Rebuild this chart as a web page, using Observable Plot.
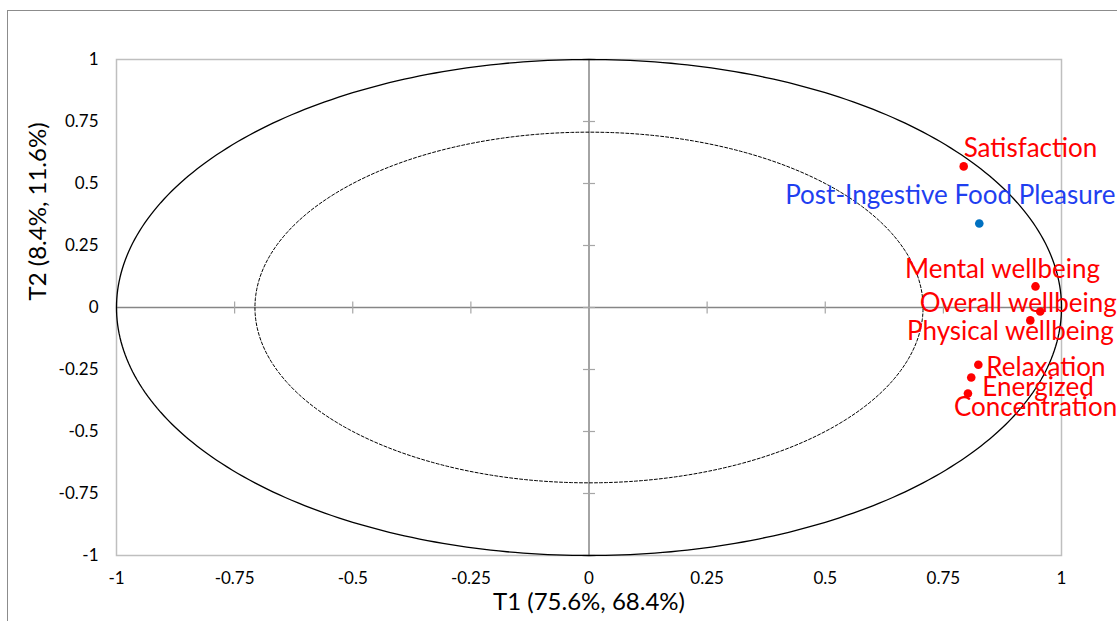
<!DOCTYPE html>
<html><head><meta charset="utf-8">
<script src="https://cdn.jsdelivr.net/npm/d3@7"></script>
<script src="https://cdn.jsdelivr.net/npm/@observablehq/plot@0.6"></script>
<style>
body{margin:0;background:#fff;overflow:hidden;}
#wrap{position:relative;width:1117px;height:621px;overflow:hidden;}
#border{position:absolute;left:7px;top:10px;width:1300px;height:800px;border:1px solid #8c8c8c;pointer-events:none;}
#chart{position:absolute;left:0;top:0;}
</style></head><body>
<div id="wrap"><div id="chart"></div><div id="border"></div></div>
<script>
// ---- data ----
const names = ["Satisfaction", "Post-Ingestive Food Pleasure", "Mental wellbeing", "Overall wellbeing", "Physical wellbeing", "Relaxation", "Energized", "Concentration"];
const t1 = [0.793, 0.826, 0.945, 0.955, 0.934, 0.824, 0.809, 0.802];
const t2 = [0.569, 0.339, 0.085, -0.016, -0.052, -0.231, -0.282, -0.347];
const roles = ["descriptor", "target", "descriptor", "descriptor", "descriptor", "descriptor", "descriptor", "descriptor"];
const xTicks = [-1, -0.75, -0.5, -0.25, 0, 0.25, 0.5, 0.75, 1];
const yTicks = [-1, -0.75, -0.5, -0.25, 0, 0.25, 0.5, 0.75, 1];
const xTitle = "T1 (75.6%, 68.4%)";
const yTitle = "T2 (8.4%, 11.6%)";
const circleRadii = [1, 0.707];

// ---- build ----
const points = names.map((n, i) => ({name: n, x: t1[i], y: t2[i], role: roles[i]}));
const roleColor = {descriptor: "#ff0000", target: "#0070c0"};
const labelColor = {descriptor: "#ff0000", target: "#1f3ff0"};
const circle = r => d3.range(0, 361, 1).map(a => ({x: r * Math.cos(a * Math.PI / 180), y: r * Math.sin(a * Math.PI / 180)}));
const vbar = {draw(ctx, size) {const h = Math.sqrt(size / Math.PI); ctx.moveTo(0, -h); ctx.lineTo(0, h);}};
const hbar = {draw(ctx, size) {const h = Math.sqrt(size / Math.PI); ctx.moveTo(-h, 0); ctx.lineTo(h, 0);}};
const fmt = d => String(d);
const FONT = "Lato, 'Liberation Sans', sans-serif";

const labelPlacement = {
  "Satisfaction": {textAnchor: "start", dx: 0, dy: -18},
  "Post-Ingestive Food Pleasure": {textAnchor: "middle", dx: -29, dy: -28},
  "Mental wellbeing": {textAnchor: "middle", dx: -33, dy: -17},
  "Overall wellbeing": {textAnchor: "middle", dx: -22, dy: -8},
  "Physical wellbeing": {textAnchor: "middle", dx: -20, dy: 11},
  "Relaxation": {textAnchor: "start", dx: 8, dy: 3},
  "Energized": {textAnchor: "start", dx: 11, dy: 10},
  "Concentration": {textAnchor: "start", dx: -14, dy: 14}
};
const labelMarks = points.map(p => Plot.text([p], {
  x: "x", y: "y", text: "name", fill: labelColor[p.role], fontSize: 26,
  ...labelPlacement[p.name]
}));

const chart = Plot.plot({
  width: 1117, height: 621,
  marginLeft: 116, marginRight: 56, marginTop: 59, marginBottom: 66,
  x: {domain: [-1, 1]},
  y: {domain: [-1, 1]},
  style: {fontFamily: FONT, background: "transparent", color: "#000"},
  marks: [
    Plot.frame({stroke: "#bfbfbf", strokeWidth: 1.5}),
    Plot.ruleX([0], {stroke: "#868686", strokeWidth: 1.5}),
    Plot.ruleY([0], {stroke: "#868686", strokeWidth: 1.5}),
    Plot.dot(xTicks, {x: d => d, y: 0, symbol: vbar, r: 6, stroke: "#a6a6a6", strokeWidth: 1.2}),
    Plot.dot(yTicks, {x: 0, y: d => d, symbol: hbar, r: 6, stroke: "#a6a6a6", strokeWidth: 1.2}),
    Plot.line(circle(circleRadii[0]), {x: "x", y: "y", stroke: "#000", strokeWidth: 1.3, curve: "linear"}),
    Plot.line(circle(circleRadii[1]), {x: "x", y: "y", stroke: "#000", strokeWidth: 1, strokeDasharray: "3,2"}),
    Plot.axisX({ticks: xTicks, tickSize: 0, tickPadding: 16, tickFormat: fmt, fontSize: 17, label: null}),
    Plot.axisY({ticks: yTicks, tickSize: 0, tickPadding: 18, tickFormat: fmt, fontSize: 17, label: null}),
    Plot.text([xTitle], {frameAnchor: "bottom", dy: 54, fontSize: 24, text: d => d}),
    Plot.text([yTitle], {frameAnchor: "left", dx: -78, dy: -7, rotate: -90, fontSize: 24, text: d => d}),
    ...labelMarks,
    Plot.dot(points, {x: "x", y: "y", r: 4.3, fill: d => roleColor[d.role], stroke: "none"})
  ]
});
document.getElementById("chart").appendChild(chart);
</script>
</body></html>
